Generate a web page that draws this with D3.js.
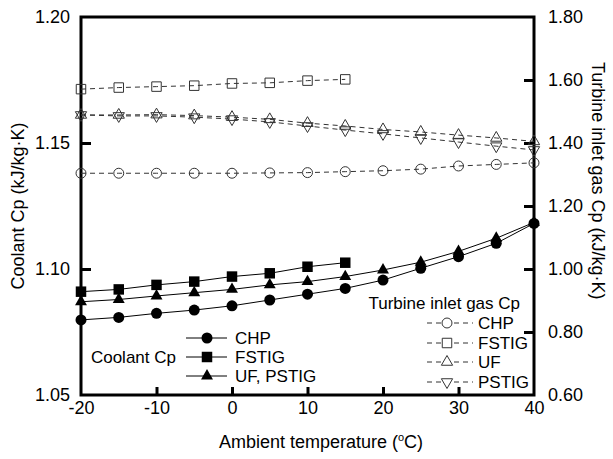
<!DOCTYPE html>
<html>
<head>
<meta charset="utf-8">
<script src="https://cdn.jsdelivr.net/npm/d3@7"></script>
<style>
  body { margin: 0; background: #fff; }
  svg { font-family: "Liberation Sans", Arial, sans-serif; }
  .axis text { font-size: 18px; fill: #000; }
</style>
</head>
<body>
<div class="chart"></div>
<script>
// Data
const temps = [-20, -15, -10, -5, 0, 5, 10, 15, 20, 25, 30, 35, 40];

// coolant Cp (left axis)
const coolantCHP   = [1.0798, 1.0808, 1.0824, 1.0837, 1.0854, 1.0877, 1.0900, 1.0923, 1.0956, 1.1003, 1.1049, 1.1102, 1.1181];
const coolantFSTIG = [1.0910, 1.0919, 1.0937, 1.0950, 1.0970, 1.0983, 1.1009, 1.1025];
const coolantUF    = [1.0870, 1.0879, 1.0893, 1.0906, 1.0919, 1.0937, 1.0950, 1.0970, 1.0996, 1.1027, 1.1070, 1.1122, 1.1185];

// turbine inlet gas Cp (right axis)
const turbineCHP   = [1.304, 1.304, 1.304, 1.304, 1.304, 1.305, 1.306, 1.309, 1.312, 1.317, 1.327, 1.332, 1.337];
const turbineFSTIG = [1.571, 1.576, 1.579, 1.582, 1.589, 1.591, 1.598, 1.602];
const turbineUF    = [1.489, 1.489, 1.490, 1.487, 1.482, 1.475, 1.463, 1.454, 1.443, 1.435, 1.425, 1.416, 1.405];
const turbinePSTIG = [1.489, 1.486, 1.486, 1.482, 1.476, 1.467, 1.454, 1.441, 1.429, 1.416, 1.403, 1.390, 1.378];

const xTicks = [-20, -10, 0, 10, 20, 30, 40];
const leftTicks = [1.05, 1.10, 1.15, 1.20];
const rightTicks = [0.60, 0.80, 1.00, 1.20, 1.40, 1.60, 1.80];

const coolantNames = ['CHP', 'FSTIG', 'UF, PSTIG'];
const turbineNames = ['CHP', 'FSTIG', 'UF', 'PSTIG'];

const W = 613, H = 459;
const margin = {top: 17, right: 79, bottom: 64, left: 81};

const svg = d3.select('.chart').append('svg').attr('width', W).attr('height', H);

const x = d3.scaleLinear([-20, 40], [margin.left, W - margin.right]);
const yL = d3.scaleLinear([1.05, 1.20], [H - margin.bottom, margin.top]);
const yR = d3.scaleLinear([0.60, 1.80], [H - margin.bottom, margin.top]);

// symbols
const sym = {
  circle: d3.symbol(d3.symbolCircle, 95),
  square: d3.symbol(d3.symbolSquare, 110),
  tri: d3.symbol(d3.symbolTriangle, 62)
};
const openSym = {
  circle: d3.symbol(d3.symbolCircle, 78),
  square: d3.symbol(d3.symbolSquare, 90),
  tri: d3.symbol(d3.symbolTriangle, 55)
};

// axes
const fmt = d3.format('.2f');
const gx = svg.append('g').attr('class', 'axis')
  .attr('transform', `translate(0,${H - margin.bottom})`)
  .call(d3.axisBottom(x).tickValues(xTicks).tickFormat(d => String(d))
    .tickSizeInner(-8).tickSizeOuter(0).tickPadding(6));
const gl = svg.append('g').attr('class', 'axis')
  .attr('transform', `translate(${margin.left},0)`)
  .call(d3.axisLeft(yL).tickValues(leftTicks).tickFormat(fmt).tickSizeInner(-10).tickSizeOuter(0).tickPadding(11));
const gr = svg.append('g').attr('class', 'axis')
  .attr('transform', `translate(${W - margin.right},0)`)
  .call(d3.axisRight(yR).tickValues(rightTicks).tickFormat(fmt).tickSizeInner(-10).tickSizeOuter(0).tickPadding(14));
[gx, gl, gr].forEach(g => {
  g.select('.domain').remove();
  g.selectAll('.tick line').attr('stroke', '#000').attr('stroke-width', 3);
});
gx.selectAll('.tick').filter(d => d === -20 || d === 40).select('line').remove();
gl.selectAll('.tick').filter(d => d === 1.05 || d === 1.20).select('line').remove();
gr.selectAll('.tick').filter(d => d === 0.60 || d === 1.80).select('line').remove();

// frame
svg.append('rect')
  .attr('x', margin.left).attr('y', margin.top)
  .attr('width', W - margin.left - margin.right)
  .attr('height', H - margin.top - margin.bottom)
  .attr('fill', 'none').attr('stroke', '#000').attr('stroke-width', 3);

// axis titles
svg.append('text')
  .attr('transform', `translate(24,${(margin.top + H - margin.bottom) / 2}) rotate(-90)`)
  .attr('text-anchor', 'middle').style('font-size', '18px')
  .text('Coolant Cp (kJ/kg\u00B7K)');
svg.append('text')
  .attr('transform', `translate(592,62) rotate(90)`)
  .attr('text-anchor', 'start').style('font-size', '18px')
  .text('Turbine inlet gas Cp (kJ/kg\u00B7K)');
const xt = svg.append('text')
  .attr('x', 321).attr('y', 448)
  .attr('text-anchor', 'middle').style('font-size', '18px');
xt.append('tspan').text('Ambient temperature (');
xt.append('tspan').text('o').attr('dy', -7).style('font-size', '11px');
xt.append('tspan').text('C)').attr('dy', 7);

// series drawing
const lineL = d3.line().x(d => x(d[0])).y(d => yL(d[1]));
const lineR = d3.line().x(d => x(d[0])).y(d => yR(d[1]));
const zip = vals => vals.map((v, i) => [temps[i], v]);

const gray = '#333';

function drawTurbine(vals, shape, rot) {
  const pts = zip(vals);
  svg.append('path').datum(pts).attr('d', lineR)
    .attr('fill', 'none').attr('stroke', gray).attr('stroke-width', 1)
    .attr('stroke-dasharray', '5,4');
  svg.append('g').selectAll('path').data(pts).join('path')
    .attr('d', openSym[shape])
    .attr('transform', d => `translate(${x(d[0])},${yR(d[1])}) rotate(${rot})`)
    .attr('fill', 'none').attr('stroke', gray).attr('stroke-width', 1);
}
function drawCoolant(vals, shape) {
  const pts = zip(vals);
  svg.append('path').datum(pts).attr('d', lineL)
    .attr('fill', 'none').attr('stroke', '#000').attr('stroke-width', 1);
  svg.append('g').selectAll('path').data(pts).join('path')
    .attr('d', sym[shape])
    .attr('transform', d => `translate(${x(d[0])},${yL(d[1])})`)
    .attr('fill', '#000');
}

drawTurbine(turbineCHP, 'circle', 0);
drawTurbine(turbineFSTIG, 'square', 0);
drawTurbine(turbineUF, 'tri', 0);
drawTurbine(turbinePSTIG, 'tri', 180);

drawCoolant(coolantCHP, 'circle');
drawCoolant(coolantFSTIG, 'square');
drawCoolant(coolantUF, 'tri');

// coolant legend
const legL = svg.append('g').style('font-size', '17px');
const legLRows = [338, 357, 376];
const legLShapes = ['circle', 'square', 'tri'];
legL.append('text').attr('x', 176).attr('y', 357).attr('dy', '0.35em')
  .attr('text-anchor', 'end').text('Coolant Cp');
coolantNames.forEach((name, i) => {
  const y = legLRows[i];
  legL.append('line').attr('x1', 186).attr('x2', 227).attr('y1', y).attr('y2', y)
    .attr('stroke', '#000').attr('stroke-width', 1);
  legL.append('path').attr('d', sym[legLShapes[i]])
    .attr('transform', `translate(207,${y})`).attr('fill', '#000');
  legL.append('text').attr('x', 235).attr('y', y).attr('dy', '0.35em').text(name);
});

// turbine legend
const legR = svg.append('g').style('font-size', '17px');
legR.append('text').attr('x', 520).attr('y', 303).attr('dy', '0.35em')
  .attr('text-anchor', 'end').text('Turbine inlet gas Cp');
const legRRows = [323, 343, 362, 382];
const legRShapes = [['circle', 0], ['square', 0], ['tri', 0], ['tri', 180]];
turbineNames.forEach((name, i) => {
  const y = legRRows[i];
  legR.append('line').attr('x1', 427).attr('x2', 473).attr('y1', y).attr('y2', y)
    .attr('stroke', gray).attr('stroke-width', 1).attr('stroke-dasharray', '5,4');
  legR.append('path').attr('d', openSym[legRShapes[i][0]])
    .attr('transform', `translate(447,${y}) rotate(${legRShapes[i][1]})`)
    .attr('fill', '#fff').attr('stroke', gray).attr('stroke-width', 1);
  legR.append('text').attr('x', 478).attr('y', y).attr('dy', '0.35em').text(name);
});
</script>
</body>
</html>
